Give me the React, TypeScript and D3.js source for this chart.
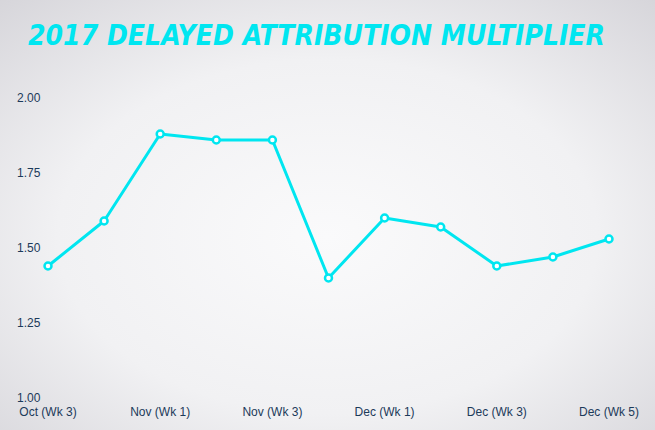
import React from "react";
import * as d3 from "d3";

const categories = [
  "Oct (Wk 3)", "Oct (Wk 4)", "Nov (Wk 1)", "Nov (Wk 2)", "Nov (Wk 3)", "Nov (Wk 4)",
  "Dec (Wk 1)", "Dec (Wk 2)", "Dec (Wk 3)", "Dec (Wk 4)", "Dec (Wk 5)",
];
const values = [1.44, 1.59, 1.88, 1.86, 1.86, 1.40, 1.60, 1.57, 1.44, 1.47, 1.53];
const xTickLabels = ["Oct (Wk 3)", "Nov (Wk 1)", "Nov (Wk 3)", "Dec (Wk 1)", "Dec (Wk 3)", "Dec (Wk 5)"];
const yTicks = [1.0, 1.25, 1.5, 1.75, 2.0];
const title = "2017 DELAYED ATTRIBUTION MULTIPLIER";

const W = 655;
const H = 430;
const CYAN = "#00e6f0";
const TEXT = "#1c3a5a";

export default function App() {
  const x = d3.scalePoint<string>().domain(categories).range([48, 609]);
  const y = d3.scaleLinear().domain([1, 2]).range([398, 98]);
  const line = d3
    .line<number>()
    .x((_, i) => x(categories[i]) as number)
    .y((d) => y(d));

  return (
    <svg
      width={W}
      height={H}
      style={{ position: "absolute", left: 0, top: 0, display: "block" }}
      fontFamily="'Liberation Sans', Arial, sans-serif"
    >
      <defs>
        <radialGradient id="bg" cx="50%" cy="55%" r="75%">
          <stop offset="0%" stopColor="#fafafb" />
          <stop offset="55%" stopColor="#f1f1f3" />
          <stop offset="100%" stopColor="#d6d5da" />
        </radialGradient>
      </defs>
      <rect x={0} y={0} width={W} height={H} fill="url(#bg)" />
      <text
        x={28}
        y={45}
        fill={CYAN}
        fontFamily="'DejaVu Sans Condensed', 'DejaVu Sans', sans-serif"
        fontWeight="bold"
        fontStyle="italic"
        fontSize={28}
        textLength={577}
        lengthAdjust="spacingAndGlyphs"
      >
        {title}
      </text>
      {yTicks.map((t) => (
        <text key={t} x={17} y={y(t)} dy="0.35em" fontSize={12} fill={TEXT}>
          {t.toFixed(2)}
        </text>
      ))}
      {xTickLabels.map((c) => (
        <text key={c} x={x(c) as number} y={412} dy="0.35em" fontSize={12} fill={TEXT} textAnchor="middle">
          {c}
        </text>
      ))}
      <path d={line(values) || ""} fill="none" stroke={CYAN} strokeWidth={3} strokeLinejoin="round" />
      {values.map((v, i) => (
        <circle
          key={i}
          cx={x(categories[i]) as number}
          cy={y(v)}
          r={3.5}
          fill="#ffffff"
          stroke={CYAN}
          strokeWidth={2.5}
        />
      ))}
    </svg>
  );
}
